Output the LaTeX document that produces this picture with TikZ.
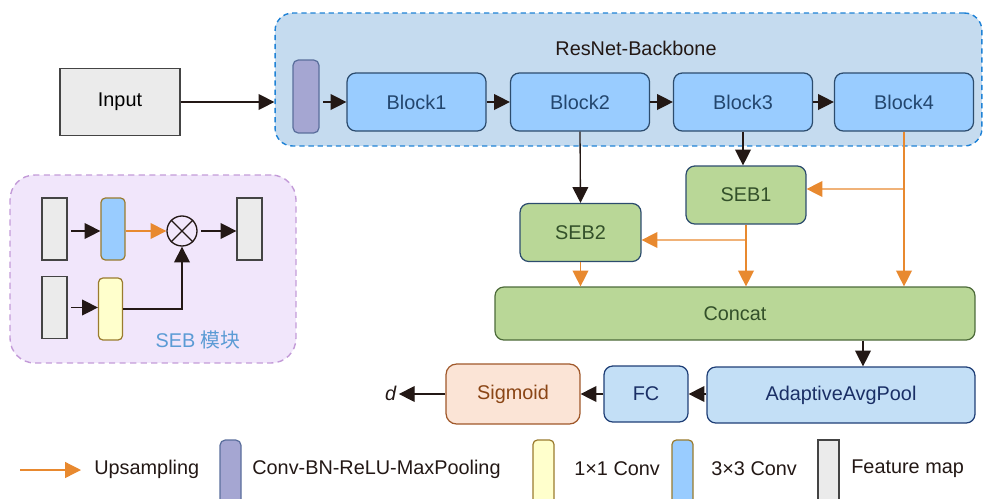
\documentclass[tikz,border=0pt]{standalone}
\usepackage{fontspec}
\setmainfont{Liberation Sans}
\newfontfamily\cjkfont{Noto Sans CJK SC}
\usepackage{xcolor}
\usetikzlibrary{arrows.meta}

\definecolor{arrblack}{HTML}{231815}
\definecolor{uporange}{HTML}{E8892F}
\definecolor{bbfill}{HTML}{C5DBEF}
\definecolor{bbline}{HTML}{1F82D6}
\definecolor{blockfill}{HTML}{99CCFF}
\definecolor{blockline}{HTML}{2C4C6E}
\definecolor{blocktext}{HTML}{23466E}
\definecolor{poolfill}{HTML}{A5A6D2}
\definecolor{poolline}{HTML}{5A6E9C}
\definecolor{sebfill}{HTML}{B9D797}
\definecolor{sebtext}{HTML}{33502A}
\definecolor{catline}{HTML}{4D6B3A}
\definecolor{headfill}{HTML}{C3DFF6}
\definecolor{headline}{HTML}{1F3F77}
\definecolor{headtext}{HTML}{1A2F66}
\definecolor{sigfill}{HTML}{FBE4D6}
\definecolor{sigline}{HTML}{A0582A}
\definecolor{sigtext}{HTML}{8A4515}
\definecolor{fmfill}{HTML}{EBEBEB}
\definecolor{fmline}{HTML}{444444}
\definecolor{convline}{HTML}{9A7B2E}
\definecolor{onefill}{HTML}{FFFFCC}
\definecolor{modfill}{HTML}{F1E6FB}
\definecolor{modline}{HTML}{C39BD8}
\definecolor{modtext}{HTML}{5B9BD5}

\begin{document}
\begin{tikzpicture}[x=0.02cm, y=-0.02cm,
      font=\fontsize{11.3}{13.5}\selectfont,
      arr/.style={draw=arrblack, line width=0.75pt, -{Triangle[length=9pt,width=9pt]}},
      uparr/.style={draw=uporange, line width=0.75pt, -{Triangle[length=9pt,width=9pt]}},
      block/.style={draw=blockline, fill=blockfill, text=blocktext, rounded corners=5pt,
            line width=0.7pt, minimum width=2.78cm, minimum height=1.16cm, inner sep=0pt},
      seb/.style={draw=blockline, fill=sebfill, text=sebtext, rounded corners=5pt,
            line width=0.7pt, minimum height=1.16cm, inner sep=0pt},
      head/.style={draw=headline, fill=headfill, text=headtext, rounded corners=5pt,
            line width=0.7pt, minimum height=1.12cm, inner sep=0pt},
      fmap/.style={draw=fmline, fill=fmfill, line width=0.7pt, minimum width=0.5cm,
            minimum height=1.24cm, inner sep=0pt},
      conv/.style={draw=convline, line width=0.7pt, rounded corners=2.5pt, minimum width=0.48cm,
            minimum height=1.24cm, inner sep=0pt},
      keytext/.style={anchor=west, text=arrblack, inner sep=0pt}]

      \useasboundingbox (0,0) rectangle (984,498);

      % backbone frame and input
      \node[draw=bbline, fill=bbfill, dash pattern=on 3pt off 2.2pt, rounded corners=10pt,
            line width=0.8pt, minimum width=14.14cm, minimum height=2.66cm, inner sep=0pt]
            (backbone) at (628.5,79.5) {};
      \node[text=arrblack] (bbtitle) at (636,48) {ResNet-Backbone};
      \node[draw=fmline, fill=fmfill, line width=0.7pt, minimum width=2.4cm,
            minimum height=1.34cm, inner sep=0pt] (input) at (120,102) {Input};

      \node[draw=poolline, fill=poolfill, rounded corners=3pt, line width=0.7pt,
            minimum width=0.52cm, minimum height=1.46cm, inner sep=0pt] (stem) at (306,96.5) {};
      \node[block] (block1) at (416.5,102) {Block1};
      \node[block] (block2) at (580,102) {Block2};
      \node[block] (block3) at (743,102) {Block3};
      \node[block] (block4) at (904,102) {Block4};

      \draw[arr] (input.east) -- (input.east -| backbone.west);
      \draw[arr, shorten <=2pt] (stem.east |- block1.west) -- (block1.west);
      \draw[arr] (block1) -- (block2);
      \draw[arr] (block2) -- (block3);
      \draw[arr] (block3) -- (block4);

      % SEB branches
      \node[seb, minimum width=2.4cm] (seb1) at (746,195) {SEB1};
      \node[seb, minimum width=2.42cm] (seb2) at (580.5,232.5) {SEB2};
      \node[seb, draw=catline, minimum width=9.6cm, minimum height=1.06cm] (concat) at (735,313.5) {Concat};

      \draw[arr] (block2.south) -- (seb2.north);
      \draw[arr] (block3.south) -- (block3.south |- seb1.north);

      \draw[uparr] (block4.south) -- (block4.south |- concat.north);
      \draw[uparr] (block4.south |- 0,189) -- ([yshift=0.12cm]seb1.east);
      \draw[uparr] (seb1.south) -- (seb1.south |- concat.north);
      \draw[uparr] (seb1.south |- 0,240) -- ([yshift=-0.15cm]seb2.east);
      \draw[uparr] (seb2.south) -- (seb2.south |- concat.north);

      % output head
      \node[head, minimum width=5.36cm] (pool) at (841,395) {AdaptiveAvgPool};
      \node[head, minimum width=1.68cm] (fc) at (646,394) {FC};
      \node[draw=sigline, fill=sigfill, text=sigtext, rounded corners=6pt, line width=0.7pt,
            minimum width=2.68cm, minimum height=1.2cm, inner sep=0pt] (sigmoid) at (513,394) {Sigmoid};
      \node[text=arrblack, inner sep=1pt] (out) at (391,393) {\textit{d}};

      \draw[arr] ([xshift=0.44cm]pool.north |- concat.south) -- ([xshift=0.44cm]pool.north);
      \draw[arr] (pool.west |- fc.east) -- (fc.east);
      \draw[arr] (fc.west) -- (fc.west -| sigmoid.east);
      \draw[arr] (sigmoid.west) -- (sigmoid.west -| out.east);

      % SEB module sketch
      \node[draw=modline, fill=modfill, dash pattern=on 3.5pt off 2.5pt, rounded corners=14pt,
            line width=0.8pt, minimum width=5.72cm, minimum height=3.76cm, inner sep=0pt]
            (module) at (153,269) {};
      \node[fmap] (fin1) at (54.5,229) {};
      \node[fmap] (fin2) at (54.5,307.5) {};
      \node[conv, fill=blockfill] (conv3) at (113,229) {};
      \node[conv, fill=onefill] (conv1) at (110.5,309) {};
      \node[draw=arrblack, circle, line width=0.75pt, minimum size=0.6cm, inner sep=0pt] (mul) at (182,231) {};
      \draw[arrblack, line width=0.7pt] (mul.north west) -- (mul.south east)
            (mul.north east) -- (mul.south west);
      \node[fmap] (fout) at (249.5,229) {};
      \node[text=modtext, inner sep=0pt] (modname) at (198,340) {SEB {\cjkfont 模块}};

      \draw[arr, shorten <=2pt] (fin1.east |- mul.west) -- (mul.west -| conv3.west);
      \draw[uparr] (conv3.east |- mul.west) -- (mul.west);
      \draw[arr, shorten <=2pt] (mul.east) -- (mul.east -| fout.west);
      \draw[arr, shorten <=2pt] (fin2.east) -- (fin2.east -| conv1.west);
      \draw[arr] (conv1.east) -| (mul.south);

      % legend
      \begin{scope}
      \clip (0,0) rectangle (984,498);
      \coordinate (keystart) at (20,470);
      \coordinate (keyend) at (81,470);
      \draw[uparr] (keystart) -- (keyend);
      \node[keytext] (kup) at (94,469) {Upsampling};
      \node[draw=poolline, fill=poolfill, rounded corners=3pt, line width=0.7pt,
            minimum width=0.42cm, minimum height=1.6cm, inner sep=0pt] (kpool) at (230.5,480) {};
      \node[keytext] (kpooltext) at (252,469) {Conv-BN-ReLU-MaxPooling};
      \node[conv, fill=onefill, minimum width=0.42cm, minimum height=1.6cm] (kone) at (543.5,480) {};
      \node[keytext] (konetext) at (574,469) {1×1 Conv};
      \node[conv, fill=blockfill, minimum width=0.42cm, minimum height=1.6cm] (kthree) at (682.5,480) {};
      \node[keytext] (kthreetext) at (711,469) {3×3 Conv};
      \node[fmap, minimum width=0.42cm, minimum height=1.6cm] (kfm) at (828.5,480) {};
      \node[keytext] (kfmtext) at (851,469) {Feature map};
      \end{scope}

      \end{tikzpicture}
\end{document}
